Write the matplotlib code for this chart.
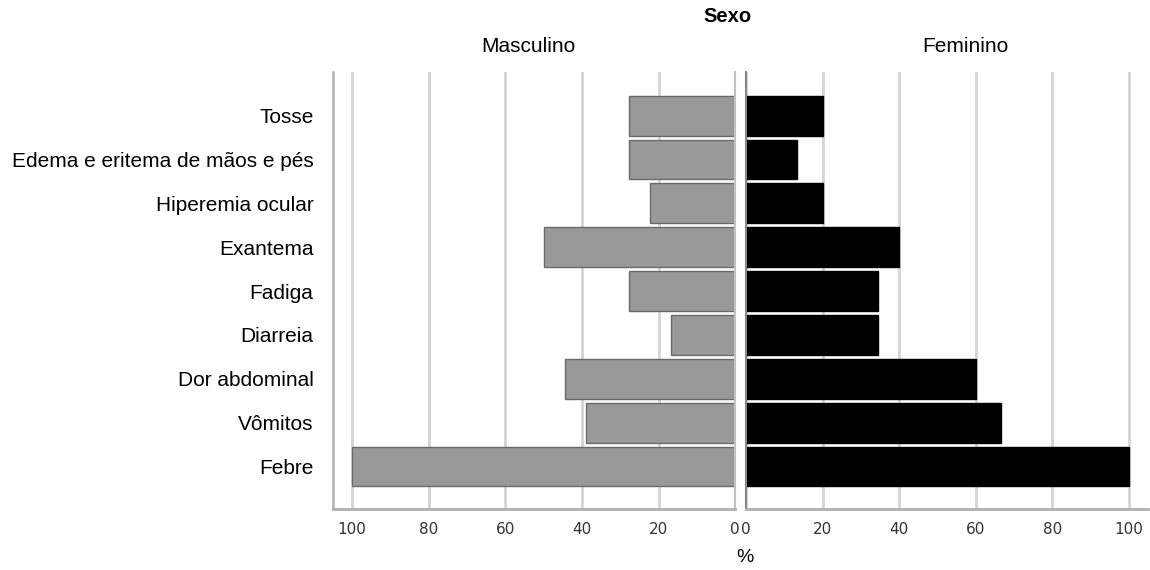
import matplotlib
matplotlib.use('Agg')
import matplotlib.pyplot as plt
import numpy as np

plt.rcParams['font.family'] = ['Liberation Sans', 'DejaVu Sans']

# sintomas, de cima para baixo
sintomas = ['Tosse', 'Edema e eritema de mãos e pés', 'Hiperemia ocular', 'Exantema',
            'Fadiga', 'Diarreia', 'Dor abdominal', 'Vômitos', 'Febre']
masculino = [27.8, 27.8, 22.2, 50.0, 27.8, 16.7, 44.4, 38.9, 100.0]
feminino = [20.0, 13.3, 20.0, 40.0, 34.4, 34.4, 60.0, 66.7, 100.0]
ticks = [0, 20, 40, 60, 80, 100]

ypos = np.arange(len(sintomas))[::-1]
grid_c = '#d4d4d4'
spine_c = '#b0b0b0'

fig = plt.figure(figsize=(11.5, 5.7), dpi=100)
ax1 = fig.add_axes([0.2896, 0.107, 0.3496, 0.767])
ax2 = fig.add_axes([0.6487, 0.107, 0.3496, 0.767])

for ax in (ax1, ax2):
    ax.set_axisbelow(True)
    ax.set_xticks(ticks)
    ax.set_xticklabels([str(t) for t in ticks], fontfamily='DejaVu Sans')
    ax.grid(axis='x', color=grid_c, linewidth=2)
    ax.set_ylim(-0.97, len(sintomas))
    ax.tick_params(axis='x', length=0, pad=9, labelsize=11, labelcolor='#333333')
    ax.spines['top'].set_visible(False)
    ax.spines['bottom'].set_color(spine_c)
    ax.spines['bottom'].set_linewidth(2)

ax1.barh(ypos, masculino, height=0.91, color='#999999', edgecolor='#6a6a6a', linewidth=1)
ax1.set_xlim(105, 0)
ax1.set_yticks(ypos)
ax1.set_yticklabels(sintomas, fontsize=15)
ax1.tick_params(axis='y', length=0, pad=14)
ax1.spines['left'].set_color(spine_c)
ax1.spines['left'].set_linewidth(1.8)
ax1.spines['right'].set_color('#c0c0c0')
ax1.spines['right'].set_linewidth(1.5)

ax2.barh(ypos, feminino, height=0.91, color='black', edgecolor='black', linewidth=1)
ax2.set_xlim(0, 105)
ax2.set_yticks([])
ax2.spines['left'].set_color('#888888')
ax2.spines['left'].set_linewidth(1.5)
ax2.spines['right'].set_visible(False)

fig.text(727 / 1150, 1 - 16 / 570, 'Sexo', fontsize=14.5, fontweight='bold', ha='center', va='center')
fig.text(528 / 1150, 1 - 47 / 570, 'Masculino', fontsize=15, ha='center', va='center')
fig.text(965 / 1150, 1 - 47 / 570, 'Feminino', fontsize=15, ha='center', va='center')
fig.text(745 / 1150, 1 - 557 / 570, '%', fontsize=14, ha='center', va='center')

fig.savefig('out.png', dpi=100, facecolor='white')
